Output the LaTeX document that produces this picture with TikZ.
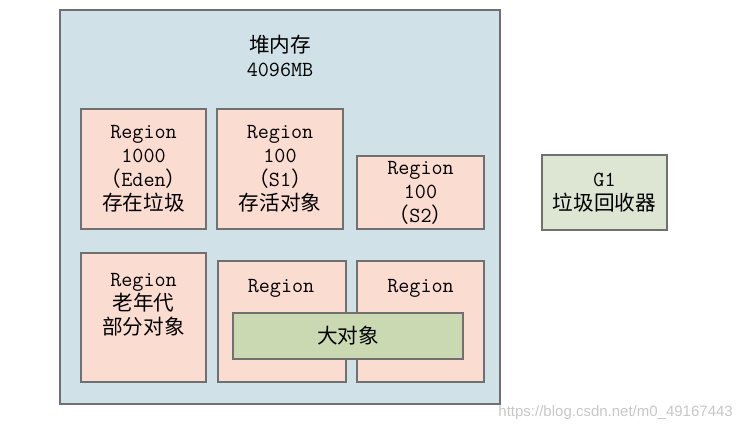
\documentclass[tikz,border=0pt]{standalone}
\usepackage{fontspec}
\newfontfamily\cjk[Scale=0.96]{Noto Sans CJK SC}
\newfontfamily\urlfont{Liberation Sans}
\usetikzlibrary{shadows}
\definecolor{heapblue}{RGB}{208,225,232}
\definecolor{regionpink}{RGB}{251,220,209}
\definecolor{bigobjgreen}{RGB}{203,217,179}
\definecolor{gcgreen}{RGB}{221,230,210}
\definecolor{boxline}{RGB}{112,112,112}
\newcommand{\zh}[1]{{\cjk #1}}

\begin{document}
\begin{tikzpicture}[x=1pt,y=-1pt]
\tikzstyle{every node}=[font=\ttfamily\fontsize{21.5}{24}\selectfont,align=center,inner sep=0pt]
\tikzstyle{box}=[draw=boxline,line width=1.2pt,drop shadow={shadow xshift=1.2pt,shadow yshift=-1.2pt,opacity=0.25}]
\tikzstyle{region}=[box,fill=regionpink]
\useasboundingbox (0,0) rectangle (742,431);
\node[box,fill=heapblue,minimum width=440pt,minimum height=394pt] (heap) at (280,207) {};
\node (title) at (280,55.5) {\zh{堆内存}\\4096MB};
\node[region,minimum width=125pt,minimum height=120pt] (eden) at (143.5,169)
  {Region\\1000\\\zh{（}Eden\zh{）}\\\zh{存在垃圾}};
\node[region,minimum width=126pt,minimum height=120pt] (sa) at (280,169)
  {Region\\100\\\zh{（}S1\zh{）}\\\zh{存活对象}};
\node[region,minimum width=127pt,minimum height=73pt] (sb) at (420.5,192.5)
  {Region\\100\\\zh{（}S2\zh{）}};
\node[region,minimum width=125pt,minimum height=129pt] (old) at (143.5,317.5) {};
\node (oldtxt) at (143.5,305) {Region\\\zh{老年代}\\\zh{部分对象}};
\node[region,minimum width=128pt,minimum height=121pt] (ha) at (282,321.5) {};
\node (hatxt) at (281,288) {Region};
\node[region,minimum width=127pt,minimum height=121pt] (hb) at (420.5,321.5) {};
\node (hbtxt) at (420.5,288) {Region};
\node[box,fill=bigobjgreen,minimum width=230pt,minimum height=46pt] (big) at (348,336) {\zh{大对象}};
\node[box,fill=gcgreen,minimum width=125pt,minimum height=75pt] (gc) at (604.5,192.5)
  {G1\\\zh{垃圾回收器}};
\node[anchor=east,font=\urlfont\fontsize{15}{18}\selectfont,text=black!22] (mark) at (733,413)
  {https://blog.csdn.net/m0\_49167443};
\end{tikzpicture}
\end{document}
